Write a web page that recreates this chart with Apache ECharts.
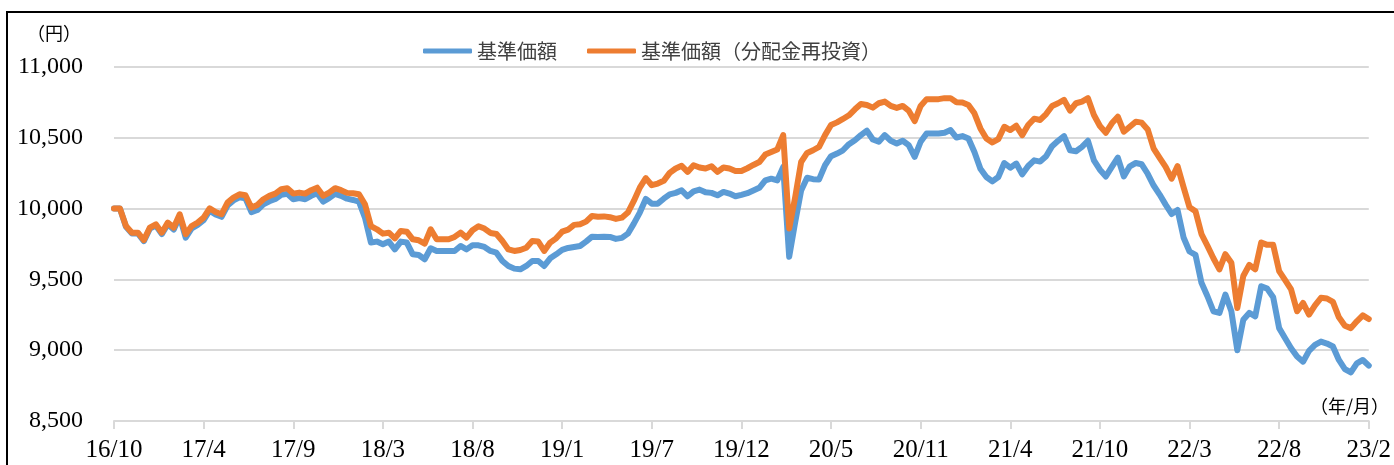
<!DOCTYPE html>
<html>
<head>
<meta charset="utf-8">
<script src="https://cdn.jsdelivr.net/npm/echarts@6/dist/echarts.min.js"></script>
<style>
  html, body { margin: 0; padding: 0; background: #fff; }
  #chart { width: 1394px; height: 465px; }
</style>
</head>
<body>
<div id="chart"></div>
<script>
// x-axis tick labels (year/month), evenly spaced; 15 samples between labels
const tickLabels = ['16/10','17/4','17/9','18/3','18/8','19/1','19/7','19/12','20/5','20/11','21/4','21/10','22/3','22/8','23/2'];
const samplesPerTick = 15;

// 基準価額
const navValues = [
10000,10000,9872,9825,9825,9770,9858,9880,9820,9890,
9852,9945,9795,9860,9885,9918,9985,9958,9942,10022,
10058,10080,10072,9975,9990,10030,10052,10068,10098,10104,
10066,10074,10066,10090,10108,10050,10074,10104,10090,10070,
10061,10049,9936,9760,9767,9748,9767,9712,9767,9760,
9677,9672,9642,9720,9701,9701,9701,9701,9736,9712,
9741,9741,9729,9701,9689,9630,9595,9576,9571,9595,
9630,9630,9595,9649,9677,9708,9722,9729,9736,9767,
9802,9800,9802,9800,9786,9793,9823,9894,9972,10068,
10035,10035,10070,10101,10111,10129,10087,10122,10134,10115,
10111,10094,10118,10106,10087,10097,10109,10128,10147,10199,
10211,10199,10294,9660,9903,10128,10218,10208,10206,10306,
10370,10389,10412,10455,10483,10519,10550,10488,10472,10519,
10479,10460,10479,10448,10365,10472,10531,10531,10531,10536,
10555,10502,10512,10495,10400,10282,10223,10192,10223,10322,
10289,10318,10242,10301,10341,10332,10370,10441,10479,10512,
10412,10405,10436,10479,10341,10275,10227,10294,10360,10227,
10299,10322,10313,10246,10163,10099,10028,9962,9990,9796,
9697,9673,9476,9381,9275,9263,9393,9275,9000,9215,
9263,9239,9452,9435,9374,9156,9085,9014,8955,8919,
8995,9038,9061,9047,9026,8931,8867,8843,8907,8931,
8891
];

// 基準価額（分配金再投資）
const reinvestValues = [
10000,10000,9877,9830,9830,9778,9866,9889,9830,9901,
9866,9960,9819,9877,9901,9936,10002,9976,9960,10042,
10078,10101,10094,10007,10026,10066,10090,10106,10137,10144,
10106,10113,10106,10130,10148,10090,10113,10144,10130,10111,
10108,10101,10031,9877,9854,9823,9830,9790,9842,9837,
9783,9776,9753,9854,9783,9783,9783,9800,9830,9795,
9847,9875,9859,9828,9821,9771,9712,9701,9708,9724,
9771,9767,9701,9760,9790,9837,9852,9885,9889,9908,
9948,9943,9945,9939,9927,9936,9972,10054,10148,10215,
10165,10177,10196,10252,10283,10302,10259,10306,10290,10283,
10299,10259,10290,10283,10266,10265,10285,10308,10329,10382,
10400,10417,10519,9860,10080,10329,10393,10412,10436,10519,
10590,10609,10633,10659,10701,10739,10732,10713,10744,10756,
10725,10711,10725,10692,10618,10725,10773,10773,10773,10780,
10780,10751,10749,10732,10673,10566,10495,10467,10491,10578,
10555,10585,10519,10590,10635,10626,10668,10725,10744,10768,
10692,10744,10756,10780,10661,10583,10536,10602,10649,10543,
10578,10614,10607,10559,10424,10358,10294,10211,10300,10152,
10009,9981,9820,9737,9649,9571,9678,9618,9298,9524,
9602,9571,9761,9744,9744,9559,9495,9429,9275,9334,
9251,9317,9370,9365,9341,9232,9173,9156,9204,9246,
9220
];

const yTicks = { min: 8500, max: 11000, step: 500 };
const seriesNames = ['基準価額', '基準価額（分配金再投資）'];

const toPairs = arr => arr.map((v, i) => [i, v]);
const lastIndex = (tickLabels.length - 1) * samplesPerTick;

const chart = echarts.init(document.getElementById('chart'), null, { renderer: 'canvas' });
const serif = "'Liberation Serif', 'DejaVu Serif', serif";
const cjk = "'Noto Sans CJK JP', 'Noto Sans', sans-serif";

chart.setOption({
  animation: false,
  backgroundColor: '#ffffff',
  grid: { left: 114, right: 21, top: 67, bottom: 44, containLabel: false },
  legend: {
    left: 418, top: 36,
    itemWidth: 49, itemHeight: 5, itemGap: 30,
    icon: 'roundRect',
    textStyle: { fontFamily: cjk, fontSize: 20, color: '#404040' },
    data: seriesNames
  },
  xAxis: {
    type: 'value',
    min: 0, max: lastIndex, interval: samplesPerTick,
    axisLine: { show: true, lineStyle: { color: '#d9d9d9', width: 2 } },
    axisTick: { show: true, length: 8, lineStyle: { color: '#d9d9d9', width: 2 } },
    splitLine: { show: false },
    axisLabel: {
      margin: 17,
      fontFamily: serif, fontSize: 25, color: '#000',
      formatter: v => tickLabels[Math.round(v / samplesPerTick)] || ''
    }
  },
  yAxis: {
    type: 'value',
    min: yTicks.min, max: yTicks.max, interval: yTicks.step,
    axisLine: { show: false },
    axisTick: { show: false },
    splitLine: { show: true, lineStyle: { color: '#d9d9d9', width: 2 } },
    axisLabel: {
      margin: 31,
      fontFamily: serif, fontSize: 24, color: '#000',
      formatter: v => v.toLocaleString('en-US')
    }
  },
  series: [
    {
      name: seriesNames[0], type: 'line', showSymbol: false, symbol: 'none',
      data: toPairs(navValues),
      itemStyle: { color: '#5B9BD5' },
      lineStyle: { color: '#5B9BD5', width: 6, cap: 'round', join: 'round' },
      z: 2
    },
    {
      name: seriesNames[1], type: 'line', showSymbol: false, symbol: 'none',
      data: toPairs(reinvestValues),
      itemStyle: { color: '#ED7D31' },
      lineStyle: { color: '#ED7D31', width: 6, cap: 'round', join: 'round' },
      z: 3
    }
  ],
  graphic: [
    {
      type: 'rect', silent: true, z: 100,
      shape: { x: 7, y: 12, width: 1420, height: 480 },
      style: { fill: null, stroke: '#000', lineWidth: 2 }
    },
    {
      type: 'text', left: 27, top: 24, silent: true,
      style: { text: '（円）', font: "18px 'Noto Sans CJK JP'", fill: '#000' }
    },
    {
      type: 'text', left: 1310, top: 397, silent: true,
      style: { text: '（年/月）', font: "18px 'Noto Sans CJK JP'", fill: '#000' }
    }
  ]
});
</script>
</body>
</html>
